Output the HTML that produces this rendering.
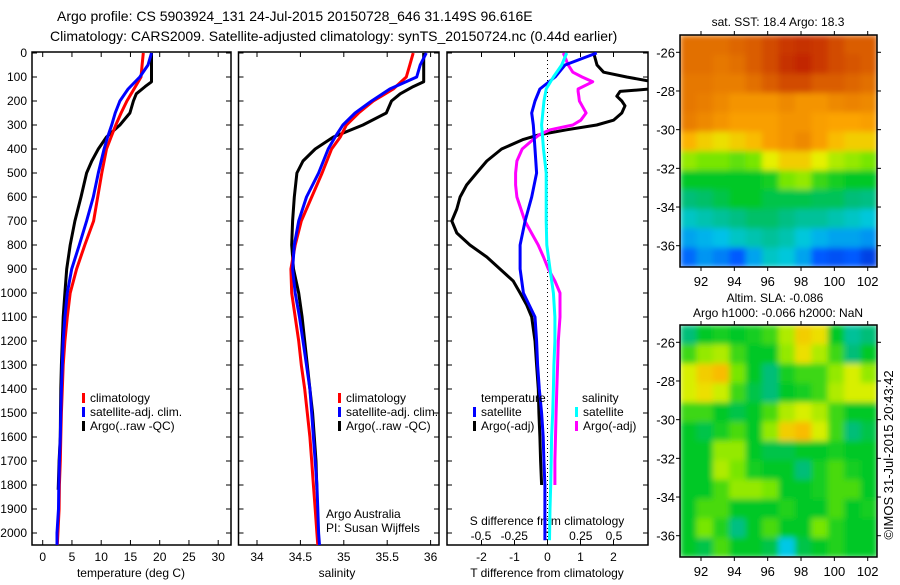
<!DOCTYPE html>
<html><head><meta charset="utf-8"><style>
body{margin:0;background:#fff;width:900px;height:580px;overflow:hidden}
svg{font-family:"Liberation Sans",sans-serif;font-size:12px}
</style></head><body>
<svg id="c" width="900" height="580"></svg>
<script>
// ---- data ----
const depths=[0,50,100,150,200,250,300,350,400,500,600,700,800,900,1000,1100,1200,1300,1400,1500,1600,1700,1800,1900,2000,2050];
const tempClim=[17.2,17.0,16.8,15.6,14.4,13.4,12.5,11.7,10.9,10.1,9.4,8.7,7.2,5.8,4.7,4.2,3.8,3.5,3.35,3.2,3.1,3.0,2.85,2.8,2.6,2.5];
const tempSat=[18.6,18.0,16.6,14.6,13.2,12.4,11.8,11.1,10.5,9.5,8.65,7.5,6.25,4.95,4.2,3.8,3.5,3.35,3.2,3.1,3.0,2.85,2.75,2.7,2.45,2.45];
const argoDepths=[0,100,120,140,170,200,250,300,350,400,450,500,600,700,800,900,1000,1100,1200,1300,1400,1500,1600,1700,1820];
const tempArgo=[18.6,18.6,18.6,17.5,16.0,15.5,14.9,13.2,10.9,9.5,8.4,7.5,6.55,5.5,4.7,4.1,3.8,3.5,3.35,3.2,3.1,3.05,3.0,2.8,2.65];
const salClim=[35.80,35.76,35.72,35.57,35.34,35.17,35.03,34.96,34.86,34.75,34.63,34.51,34.44,34.39,34.40,34.44,34.48,34.51,34.55,34.58,34.61,34.63,34.65,34.67,34.69,34.70];
const salSat=[35.95,35.88,35.84,35.53,35.32,35.13,34.99,34.90,34.82,34.71,34.57,34.48,34.43,34.41,34.44,34.49,34.53,34.57,34.61,34.63,34.65,34.67,34.69,34.70,34.71,34.72];
const salArgo=[35.92,35.92,35.92,35.80,35.65,35.55,35.49,35.22,34.88,34.67,34.53,34.46,34.43,34.41,34.40,34.42,34.48,34.52,34.55,34.58,34.61,34.64,34.66,34.68,34.69];
const diffDepths=[0,50,100,150,200,250,300,400,500,600,700,800,900,1000,1100,1200,1300,1400,1500,1600,1700,1800,1900,2030];
const dTSat=[1.49,0.53,0.23,-0.23,-0.38,-0.48,-0.43,-0.38,-0.33,-0.48,-0.68,-0.83,-0.83,-0.73,-0.38,-0.33,-0.30,-0.25,-0.18,-0.13,-0.11,-0.08,-0.08,-0.08];
const dSSat=[0.144,0.107,0.044,-0.01,-0.026,-0.035,-0.044,-0.03,-0.01,-0.01,-0.01,-0.005,0.019,0.044,0.056,0.056,0.048,0.044,0.039,0.031,0.028,0.024,0.019,0.015];
const argoDiffDepths=[0,50,80,100,120,150,160,180,200,220,250,280,300,320,340,360,400,450,500,550,600,650,700,750,800,850,900,950,1000,1050,1100,1200,1300,1400,1500,1600,1700,1800];
const dTArgo=[1.4,1.5,1.7,2.4,3.2,3.1,2.2,2.1,2.25,2.35,2.25,2.0,1.49,0.58,-0.23,-0.73,-1.39,-1.84,-2.15,-2.45,-2.65,-2.75,-2.9,-2.75,-2.35,-1.84,-1.44,-1.04,-0.83,-0.63,-0.48,-0.38,-0.33,-0.28,-0.26,-0.23,-0.21,-0.18];
const dSArgo=[0.119,0.156,0.19,0.26,0.34,0.23,0.23,0.235,0.24,0.26,0.29,0.25,0.19,0.02,-0.06,-0.107,-0.19,-0.23,-0.24,-0.24,-0.23,-0.20,-0.17,-0.12,-0.07,-0.03,0.006,0.056,0.094,0.094,0.094,0.081,0.076,0.07,0.065,0.06,0.056,0.056];
const depthTicks=[0,100,200,300,400,500,600,700,800,900,1000,1100,1200,1300,1400,1500,1600,1700,1800,1900,2000];
const tempTicks=[0,5,10,15,20,25,30];
const salTicks=[34,34.5,35,35.5,36];
const tDiffTicks=[-2,-1,0,1,2];
const sDiffTicks=[-0.5,-0.25,0,0.25,0.5];
const sDiffLabels=["-0.5","-0.25","0","0.25","0.5"];
const lonTicks=[92,94,96,98,100,102];
const latTicks=[-26,-28,-30,-32,-34,-36];
const sstGrid=[
[.86,.86,.86,.87,.88,.9,.92,.93,.92,.9,.88,.88],
[.86,.86,.85,.86,.88,.9,.93,.94,.92,.9,.89,.88],
[.85,.85,.84,.84,.86,.88,.9,.9,.88,.88,.87,.86],
[.85,.84,.82,.8,.8,.8,.82,.8,.8,.82,.83,.82],
[.84,.82,.8,.78,.78,.78,.8,.8,.78,.77,.77,.78],
[.75,.72,.7,.72,.74,.78,.8,.82,.78,.74,.72,.72],
[.62,.6,.6,.58,.6,.68,.72,.72,.68,.64,.62,.6],
[.5,.5,.5,.5,.5,.52,.6,.62,.55,.52,.5,.5],
[.45,.46,.48,.5,.5,.48,.48,.48,.47,.47,.45,.44],
[.38,.4,.42,.44,.46,.46,.44,.42,.42,.4,.38,.36],
[.3,.32,.34,.38,.4,.42,.4,.36,.32,.3,.3,.28],
[.22,.28,.25,.2,.3,.38,.36,.3,.2,.18,.2,.15]];
const slaGrid=[
[.45,.5,.52,.5,.52,.55,.64,.72,.7,.5,.42,.45],
[.55,.62,.64,.55,.5,.5,.62,.7,.64,.55,.45,.5],
[.67,.72,.74,.6,.5,.45,.52,.55,.55,.62,.67,.62],
[.67,.7,.66,.55,.48,.45,.5,.52,.55,.64,.67,.67],
[.55,.55,.5,.48,.5,.56,.64,.67,.64,.55,.5,.5],
[.5,.48,.52,.56,.5,.62,.72,.74,.67,.55,.45,.48],
[.5,.5,.62,.62,.5,.48,.48,.5,.5,.52,.5,.5],
[.5,.5,.64,.6,.52,.5,.5,.45,.52,.56,.52,.5],
[.5,.5,.56,.62,.62,.6,.5,.5,.52,.56,.56,.5],
[.5,.56,.56,.5,.5,.5,.53,.5,.5,.56,.5,.52],
[.5,.6,.53,.44,.5,.56,.5,.5,.6,.53,.5,.5],
[.5,.48,.56,.5,.5,.48,.35,.48,.5,.53,.5,.5]];

// ---- helpers ----
const NS="http://www.w3.org/2000/svg";const svg=document.getElementById('c');
function mk(tag,attrs,parent){const e=document.createElementNS(NS,tag);for(const k in attrs)e.setAttribute(k,attrs[k]);(parent||svg).appendChild(e);return e;}
function txt(s,x,y,anchor,name,extra){const t=mk('text',Object.assign({x:x,y:y,'text-anchor':anchor||'start'},extra||{}));t.textContent=s;


return t;}
const yD=d=>53+d*0.24;
const xT=v=>42.7+v*5.85;
const xS=v=>257+(v-34)*86.8;
const xDT=v=>547.5+v*33;
const xDS=v=>547.5+v*133;
const cmapStops=[[0,[0,0,150]],[0.2,[0,90,255]],[0.35,[0,200,230]],[0.45,[0,190,120]],[0.5,[0,200,40]],[0.6,[120,230,0]],[0.68,[230,240,0]],[0.76,[255,170,0]],[0.85,[230,120,0]],[0.95,[190,30,0]],[1,[150,0,0]]];
function cmap(v){v=Math.max(0,Math.min(1,v));for(let i=1;i<cmapStops.length;i++){const a=cmapStops[i-1],b=cmapStops[i];if(v<=b[0]){const t=(v-a[0])/(b[0]-a[0]);const c=a[1].map((x,k)=>Math.round(x+(b[1][k]-x)*t));return `rgb(${c[0]},${c[1]},${c[2]})`;}}return 'rgb(150,0,0)';}
function line(xs,ds,fx,color,name,clip){const p=xs.map((v,i)=>fx(v).toFixed(1)+','+yD(ds[i]).toFixed(1)).join(' ');const e=mk('polyline',{points:p,fill:'none',stroke:color,'stroke-width':3,'stroke-linejoin':'round'});if(clip)e.setAttribute('clip-path',clip);


}
function frame(x0,x1,name){const r=mk('rect',{x:x0,y:52,width:x1-x0,height:493,fill:'none',stroke:'#000','stroke-width':1.5});


depthTicks.forEach(d=>{mk('line',{x1:x0,x2:x0+5,y1:yD(d),y2:yD(d),stroke:'#000'});mk('line',{x1:x1-5,x2:x1,y1:yD(d),y2:yD(d),stroke:'#000'});});}
function legendMark(x,y,color,name){const r=mk('rect',{x:x,y:y-9,width:3,height:10,fill:color});

}

const defs=mk('defs',{});
const f=mk('filter',{id:'blur',x:'-5%',y:'-5%',width:'110%',height:'110%'},defs);mk('feGaussianBlur',{stdDeviation:3,edgeMode:'duplicate'},f);

// titles
txt('Argo profile: CS 5903924_131 24-Jul-2015 20150728_646 31.149S 96.616E',57,21,'start','title-line-1',{'font-size':'14px'});
txt('Climatology: CARS2009. Satellite-adjusted climatology: synTS_20150724.nc (0.44d earlier)',50,41,'start','title-line-2',{'font-size':'14px'});

// depth labels
depthTicks.forEach(d=>{txt(String(d),27,yD(d)+4,'end','depth-tick-label');});

// panel 1
frame(32,231,'temperature-panel');
tempTicks.forEach(v=>{mk('line',{x1:xT(v),x2:xT(v),y1:52,y2:57,stroke:'#000'});mk('line',{x1:xT(v),x2:xT(v),y1:540,y2:545,stroke:'#000'});txt(String(v),xT(v),561,'middle','temperature-tick-label');});
txt('temperature (deg C)',131,577,'middle','temperature-axis-title');
line(tempArgo,argoDepths,xT,'#000','temperature-argo-line');
line(tempClim,depths,xT,'#f00','temperature-climatology-line');
line(tempSat,depths,xT,'#00f','temperature-satellite-line');
legendMark(82,402,'#f00','legend-climatology-marker');txt('climatology',90,402,'start','legend-climatology');
legendMark(82,416,'#00f','legend-satellite-marker');txt('satellite-adj. clim.',90,416,'start','legend-satellite-adj');
legendMark(82,430,'#000','legend-argo-marker');txt('Argo(..raw -QC)',90,430,'start','legend-argo');

// panel 2
frame(238.5,439,'salinity-panel');
salTicks.forEach(v=>{mk('line',{x1:xS(v),x2:xS(v),y1:52,y2:57,stroke:'#000'});mk('line',{x1:xS(v),x2:xS(v),y1:540,y2:545,stroke:'#000'});txt(String(v),xS(v),561,'middle','salinity-tick-label');});
txt('salinity',337,577,'middle','salinity-axis-title');
line(salArgo,argoDepths,xS,'#000','salinity-argo-line');
line(salClim,depths,xS,'#f00','salinity-climatology-line');
line(salSat,depths,xS,'#00f','salinity-satellite-line');
legendMark(338,402,'#f00','legend2-climatology-marker');txt('climatology',346,402,'start','legend2-climatology');
legendMark(338,416,'#00f','legend2-satellite-marker');txt('satellite-adj. clim.',346,416,'start','legend2-satellite-adj');
legendMark(338,430,'#000','legend2-argo-marker');txt('Argo(..raw -QC)',346,430,'start','legend2-argo');
txt('Argo Australia',326,518,'start','credit-argo-australia');
txt('PI: Susan Wijffels',326,532,'start','credit-pi');

// panel 3
mk('clipPath',{id:'p3'},defs);mk('rect',{x:447,y:52,width:201,height:493},defs.lastChild);
frame(447,648,'difference-panel');
mk('line',{x1:xDT(0),x2:xDT(0),y1:52,y2:545,stroke:'#000','stroke-dasharray':'1,3'});
tDiffTicks.forEach(v=>{mk('line',{x1:xDT(v),x2:xDT(v),y1:52,y2:57,stroke:'#000'});mk('line',{x1:xDT(v),x2:xDT(v),y1:540,y2:545,stroke:'#000'});txt(String(v),xDT(v),561,'middle','t-diff-tick-label');});
sDiffTicks.forEach((v,i)=>{txt(sDiffLabels[i],xDS(v),540,'middle','s-diff-tick-label');});
txt('S difference from climatology',547,525,'middle','s-diff-axis-title');
txt('T difference from climatology',547,577,'middle','t-diff-axis-title');
line(dTArgo,argoDiffDepths,xDT,'#000','t-diff-argo-line','url(#p3)');
line(dSArgo,argoDiffDepths,xDS,'#f0f','s-diff-argo-line','url(#p3)');
line(dTSat,diffDepths,xDT,'#00f','t-diff-satellite-line','url(#p3)');
line(dSSat,diffDepths,xDS,'#0ff','s-diff-satellite-line','url(#p3)');
txt('temperature',481,402,'start','legend3-temperature-heading');
txt('salinity',582,402,'start','legend3-salinity-heading');
legendMark(473,416,'#00f','legend3-t-satellite-marker');txt('satellite',481,416,'start','legend3-t-satellite');
legendMark(473,430,'#000','legend3-t-argo-marker');txt('Argo(-adj)',481,430,'start','legend3-t-argo');
legendMark(575,416,'#0ff','legend3-s-satellite-marker');txt('satellite',583,416,'start','legend3-s-satellite');
legendMark(575,430,'#f0f','legend3-s-argo-marker');txt('Argo(-adj)',583,430,'start','legend3-s-argo');

// maps
function map(grid,top,name,id){const x0=680,x1=877,y1=top+232;const cw=(x1-x0)/grid[0].length,ch=(y1-top)/grid.length;
mk('clipPath',{id:id},defs);mk('rect',{x:x0,y:top,width:x1-x0,height:y1-top},defs.lastChild);
const outer=mk('g',{'clip-path':'url(#'+id+')'});
const g=mk('g',{filter:'url(#blur)'},outer);

grid.forEach((row,r)=>row.forEach((v,c)=>{mk('rect',{x:(x0+c*cw).toFixed(2),y:(top+r*ch).toFixed(2),width:(cw+0.6).toFixed(2),height:(ch+0.6).toFixed(2),fill:cmap(v)},g);}));
mk('rect',{x:x0,y:top,width:x1-x0,height:y1-top,fill:'none',stroke:'#000','stroke-width':1.5});
const xl=v=>701+(v-92)*16.67, yl=v=>top+17.3+(-26-v)*19.34;
lonTicks.forEach(v=>{mk('line',{x1:xl(v),x2:xl(v),y1:top-4,y2:top,stroke:'#000'});mk('line',{x1:xl(v),x2:xl(v),y1:y1,y2:y1+4,stroke:'#000'});txt(String(v),xl(v),y1+19,'middle','longitude-tick-label',{'font-size':'13px'});});
latTicks.forEach(v=>{mk('line',{x1:x0-4,x2:x0,y1:yl(v),y2:yl(v),stroke:'#000'});mk('line',{x1:x1,x2:x1+4,y1:yl(v),y2:yl(v),stroke:'#000'});txt(String(v),x0-5,yl(v)+5,'end','latitude-tick-label',{'font-size':'13px'});});}
map(sstGrid,35,'sst-map','m1');
map(slaGrid,325,'sla-map','m2');
txt('sat. SST: 18.4  Argo: 18.3',778,26,'middle','sst-map-title');
txt('Altim. SLA: -0.086',775,302,'middle','sla-map-title');
txt('Argo h1000: -0.066 h2000: NaN',778,317,'middle','sla-map-subtitle');
txt('©IMOS 31-Jul-2015 20:43:42',0,0,'middle','imos-timestamp',{transform:'translate(893,455) rotate(-90)','font-size':'13px'});
</script>
</body></html>
